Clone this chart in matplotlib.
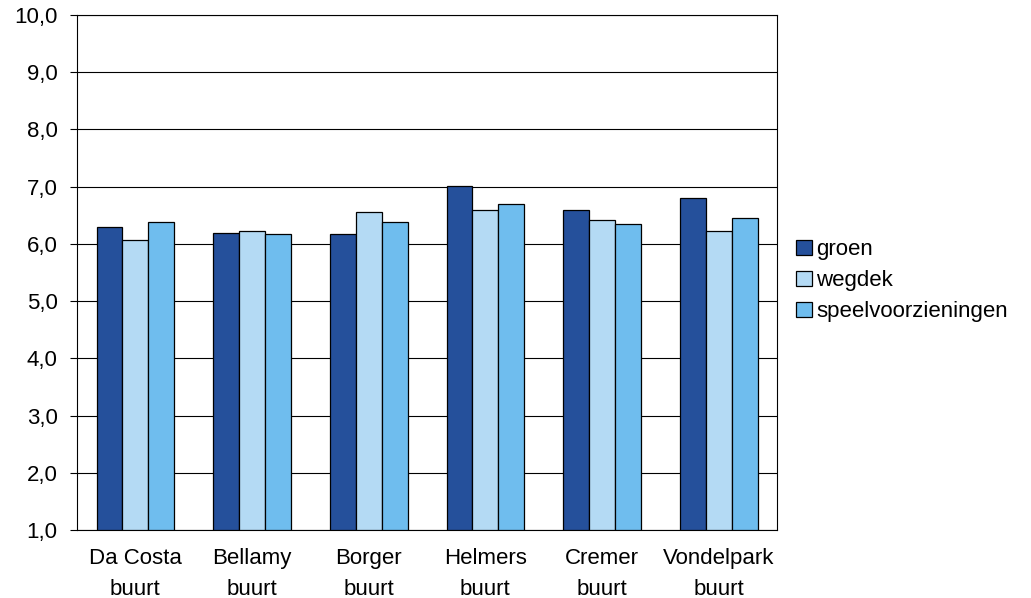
import matplotlib
matplotlib.use("Agg")
import matplotlib.pyplot as plt
import numpy as np

plt.rcParams['font.family'] = ['Liberation Sans', 'DejaVu Sans']

categories = ["Da Costa\nbuurt", "Bellamy\nbuurt", "Borger\nbuurt", "Helmers\nbuurt", "Cremer\nbuurt", "Vondelpark\nbuurt"]
series_names = ["groen", "wegdek", "speelvoorzieningen"]
groen = [6.30, 6.19, 6.17, 7.02, 6.59, 6.80]
wegdek = [6.07, 6.22, 6.55, 6.59, 6.41, 6.22]
speel = [6.39, 6.17, 6.39, 6.69, 6.34, 6.45]
colors = ["#25509B", "#B4DAF4", "#6FBDEE"]

fig = plt.figure(figsize=(10.31, 5.98), dpi=100)
ax = fig.add_axes([0.0747, 0.1137, 0.679, 0.8612])

x = np.arange(len(categories))
w = 0.222
for i, (vals, name, c) in enumerate(zip([groen, wegdek, speel], series_names, colors)):
    base = 1.0
    ax.bar(x + (i - 1) * w, np.array(vals) - base, bottom=base, width=w, color=c,
           edgecolor="black", linewidth=0.9, label=name, zorder=3)

ax.set_xlim(-0.5, len(categories) - 0.5)
ax.set_ylim(1.0, 10.0)
yt = np.arange(1, 11)
ax.set_yticks(yt)
ax.set_yticklabels([f"{v:.1f}".replace(".", ",") for v in yt], fontsize=16)
ax.yaxis.grid(True, color="black", linewidth=0.8, zorder=0)
ax.set_axisbelow(True)
ax.set_xticks(x)
ax.set_xticklabels(categories, fontsize=16, linespacing=1.62)
ax.tick_params(axis="x", length=0, pad=13)
ax.tick_params(axis="y", length=5, direction="out", pad=9)
for s in ax.spines.values():
    s.set_linewidth(0.8)
    s.set_color("black")

leg = ax.legend(loc="center left", bbox_to_anchor=(1.005, 0.484), frameon=False, fontsize=16,
                handlelength=0.7, handleheight=0.7, handletextpad=0.2, labelspacing=0.45,
                borderaxespad=0.3)

fig.savefig("out.png", dpi=100)
